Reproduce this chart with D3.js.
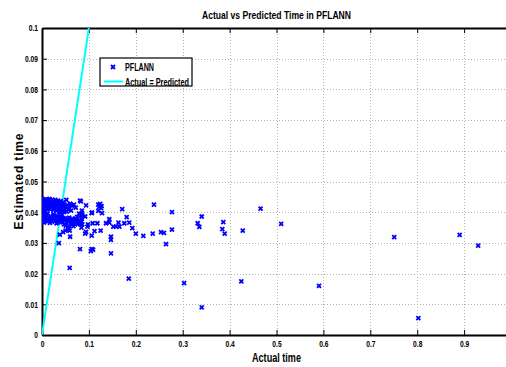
<!DOCTYPE html>
<html>
<head>
<meta charset="utf-8">
<script src="https://cdn.jsdelivr.net/npm/d3@7"></script>
<style>
  html, body { margin: 0; padding: 0; background: #fff; }
  svg { display: block; }
  text { font-family: "Liberation Sans", Arial, sans-serif; font-weight: bold; fill: #000; }
</style>
</head>
<body>
<svg id="chart" width="506" height="367"></svg>
<script>
// ---- Data ----
const title = "Actual vs Predicted Time in PFLANN";
const xLabel = "Actual time";
const yLabel = "Estimated time";
const seriesName = "PFLANN";
const lineName = "Actual = Predicted";
const xTicks = [0, 0.1, 0.2, 0.3, 0.4, 0.5, 0.6, 0.7, 0.8, 0.9];
const yTicks = [0, 0.01, 0.02, 0.03, 0.04, 0.05, 0.06, 0.07, 0.08, 0.09, 0.1];
const idealX = [0, 0.1];
const idealY = [0, 0.1];

const actual = [
  // upper band of the dense cluster
  0.000,0.002,0.004,0.006,0.008,0.010,0.012,0.014,0.016,0.018,0.020,0.022,0.024,0.026,0.028,0.030,0.032,0.034,0.036,0.038,0.040,0.042,0.044,0.046,0.048,0.050,0.052,0.054,0.058,0.060,0.064,0.068,0.072,
  0.001,0.003,0.005,0.007,0.009,0.011,0.013,0.015,0.017,0.019,0.021,0.023,0.025,0.027,0.029,0.031,0.033,0.035,0.037,0.039,0.041,0.043,0.045,0.047,0.049,0.053,0.056,0.062,0.001,0.004,0.008,
  // lower band of the dense cluster
  0.000,0.002,0.003,0.005,0.006,0.008,0.010,0.011,0.013,0.015,0.016,0.018,0.020,0.021,0.023,0.025,0.026,0.028,0.030,0.032,0.033,0.035,0.037,0.039,0.040,0.042,0.044,0.046,0.048,0.050,0.052,0.054,0.056,0.058,0.060,0.062,0.064,0.066,0.068,0.070,0.072,0.074,0.076,0.078,0.080,0.082,0.084,
  0.001,0.004,0.007,0.012,0.017,0.024,0.031,0.036,0.043,0.047,0.051,0.055,0.057,0.059,0.063,0.067,0.071,0.075,0.079,0.083,
  // near cluster
  0.036,0.038,0.060,0.050,0.045,0.059,0.081,0.081,0.092,0.085,0.106,
  // mid range
  0.083,0.094,0.085,0.086,0.085,0.083,0.086,0.084,
  0.1066,0.120,0.124,0.127,0.122,0.126,0.120,0.128,
  0.171,0.1805,0.186,0.1926,0.200,0.216,0.236,0.2537,0.260,0.2644,0.277,0.277,0.2388,
  0.1435,0.1435,0.152,0.158,0.165,0.163,0.1755,0.1365,0.125,0.112,0.106,0.118,0.108,0.098,0.097,0.094,0.092,0.147,0.147,0.106,0.109,0.104,0.147,0.185,
  // far points
  0.303,0.3405,0.332,0.3355,0.3866,0.3845,0.3895,0.466,0.428,0.510,0.751,0.8905,0.930,0.425,0.3405,0.5906,0.8024
];
const estimated = [
  0.0443,0.0438,0.0441,0.0435,0.0442,0.0437,0.0440,0.0433,0.0443,0.0438,0.0430,0.0441,0.0435,0.0428,0.0440,0.0433,0.0425,0.0438,0.0430,0.0422,0.0436,0.0428,0.0419,0.0433,0.0425,0.0417,0.0440,0.0423,0.0418,0.0428,0.0421,0.0425,0.0415,
  0.0425,0.0420,0.0428,0.0415,0.0422,0.0412,0.0426,0.0418,0.0410,0.0423,0.0414,0.0420,0.0408,0.0418,0.0412,0.0405,0.0416,0.0408,0.0413,0.0402,0.0410,0.0404,0.0412,0.0400,0.0408,0.0402,0.0410,0.0405,0.0405,0.0410,0.0402,
  0.0392,0.0385,0.0378,0.0390,0.0372,0.0383,0.0376,0.0388,0.0370,0.0381,0.0374,0.0387,0.0378,0.0369,0.0383,0.0375,0.0389,0.0371,0.0380,0.0373,0.0386,0.0368,0.0378,0.0371,0.0384,0.0375,0.0367,0.0381,0.0372,0.0379,0.0366,0.0376,0.0369,0.0382,0.0373,0.0365,0.0378,0.0370,0.0363,0.0375,0.0368,0.0372,0.0360,0.0367,0.0374,0.0362,0.0370,
  0.0372,0.0366,0.0395,0.0396,0.0365,0.0394,0.0364,0.0393,0.0391,0.0360,0.0356,0.0352,0.0345,0.0340,0.0358,0.0355,0.0380,0.0385,0.0395,0.0390,
  0.0299,0.0327,0.0320,0.0340,0.0335,0.0219,0.0280,0.0438,0.0386,0.0397,0.0397,
  0.0435,0.0422,0.0405,0.0390,0.0378,0.0368,0.0360,0.0350,
  0.0399,0.0425,0.0427,0.0420,0.0417,0.0413,0.0404,0.0397,
  0.0410,0.0384,0.0366,0.0348,0.0330,0.0323,0.0330,0.0335,0.0333,0.0296,0.0400,0.0343,0.0425,
  0.0377,0.0366,0.0353,0.0353,0.0353,0.0366,0.0364,0.0364,0.0340,0.0338,0.0324,0.0364,0.0364,0.0360,0.0353,0.0336,0.0330,0.0320,0.0310,0.0280,0.0278,0.0273,0.0266,0.0184,
  0.0169,0.0386,0.0364,0.0352,0.0368,0.0345,0.0330,0.0412,0.0340,0.0362,0.0319,0.0326,0.0291,0.0175,0.0090,0.0160,0.0055
];

// ---- Layout ----
const W = 506, H = 367;
const mL = 42, mT = 28, mR = 511, mB = 335;
const svg = d3.select("#chart");
svg.append("rect").attr("width", W).attr("height", H).attr("fill", "#fff");

const x = d3.scaleLinear().domain([0, 1]).range([mL, mR]);
const y = d3.scaleLinear().domain([0, 0.1]).range([mB, mT]);

svg.append("defs").append("clipPath").attr("id", "clip")
  .append("rect").attr("x", mL).attr("y", mT).attr("width", mR - mL).attr("height", mB - mT);

// condense text horizontally (narrow Helvetica look)
function condense(sel, f) {
  sel.each(function () {
    const n = this.getComputedTextLength();
    d3.select(this).attr("textLength", n * f).attr("lengthAdjust", "spacingAndGlyphs");
  });
}

// grid
const grid = svg.append("g").attr("stroke", "#b4b4b4").attr("stroke-width", 1).attr("stroke-dasharray", "1,2");
grid.selectAll("line.gx").data(xTicks.slice(1)).enter().append("line")
  .attr("x1", d => Math.round(x(d)) + 0.5).attr("x2", d => Math.round(x(d)) + 0.5)
  .attr("y1", mT).attr("y2", mB);
grid.selectAll("line.gy").data(yTicks.slice(1, -1)).enter().append("line")
  .attr("y1", d => Math.round(y(d)) + 0.5).attr("y2", d => Math.round(y(d)) + 0.5)
  .attr("x1", mL).attr("x2", mR);

// axes
const fmt = d => d === 0 ? "0" : d3.format("~g")(d);
const xAxis = svg.append("g").attr("transform", `translate(0,${mB})`)
  .call(d3.axisBottom(x).tickValues(xTicks).tickFormat(fmt).tickSizeInner(-5).tickSizeOuter(0).tickPadding(5.5));
const xAxisTop = svg.append("g").attr("transform", `translate(0,${mT})`)
  .call(d3.axisTop(x).tickValues(xTicks).tickFormat("").tickSizeInner(-5).tickSizeOuter(0));
const yAxis = svg.append("g").attr("transform", `translate(${mL},0)`)
  .call(d3.axisLeft(y).tickValues(yTicks).tickFormat(fmt).tickSizeInner(-5).tickSizeOuter(0).tickPadding(4));
[xAxis, xAxisTop, yAxis].forEach(g => {
  g.selectAll("path.domain").attr("stroke", "#000").attr("stroke-width", 2);
  g.selectAll(".tick line").attr("stroke", "#000").attr("stroke-width", 1);
  g.selectAll(".tick text").attr("font-size", 9).attr("font-weight", "bold")
    .attr("font-family", "'Liberation Sans', Arial, sans-serif").attr("fill", "#000");
  condense(g.selectAll(".tick text"), 0.74);
});

// ideal line
svg.append("path")
  .attr("clip-path", "url(#clip)")
  .attr("d", d3.line().x(d => x(d[0])).y(d => y(d[1]))(idealX.map((v, i) => [v, idealY[i]])))
  .attr("stroke", "#00ffff").attr("stroke-width", 2).attr("fill", "none");

// points
const pts = actual.map((v, i) => [v, estimated[i]]);
const marker = "M-2,-2L2,2M-2,2L2,-2";
svg.append("g").attr("clip-path", "url(#clip)")
  .selectAll("path").data(pts).enter().append("path")
  .attr("d", marker)
  .attr("transform", d => `translate(${x(d[0])},${y(d[1])})`)
  .attr("stroke", "#0000ff").attr("stroke-width", 1.8).attr("fill", "none");

// title & labels
svg.append("text").attr("x", (mL + mR) / 2).attr("y", 19).attr("text-anchor", "middle")
  .attr("font-size", 11).attr("textLength", 149).attr("lengthAdjust", "spacingAndGlyphs").text(title);
svg.append("text").attr("x", (mL + mR) / 2).attr("y", 362).attr("text-anchor", "middle")
  .attr("font-size", 13).attr("textLength", 49).attr("lengthAdjust", "spacingAndGlyphs").text(xLabel);
svg.append("text").attr("transform", `translate(23,${(mT + mB) / 2}) rotate(-90)`).attr("text-anchor", "middle")
  .attr("font-size", 12).attr("textLength", 96).attr("lengthAdjust", "spacing").text(yLabel);

// legend
const lg = svg.append("g");
lg.append("rect").attr("x", 100).attr("y", 58).attr("width", 92).attr("height", 28)
  .attr("fill", "#fff").attr("stroke", "#000").attr("stroke-width", 1.2);
lg.append("path").attr("d", marker).attr("transform", "translate(113,67)")
  .attr("stroke", "#0000ff").attr("stroke-width", 1.8).attr("fill", "none");
lg.append("text").attr("x", 125).attr("y", 71).attr("font-size", 10.5)
  .attr("textLength", 29).attr("lengthAdjust", "spacingAndGlyphs").text(seriesName);
lg.append("line").attr("x1", 104).attr("x2", 123).attr("y1", 81.5).attr("y2", 81.5)
  .attr("stroke", "#00ffff").attr("stroke-width", 2);
lg.append("text").attr("x", 125).attr("y", 85.5).attr("font-size", 10.5)
  .attr("textLength", 64).attr("lengthAdjust", "spacingAndGlyphs").text(lineName);
</script>
</body>
</html>
